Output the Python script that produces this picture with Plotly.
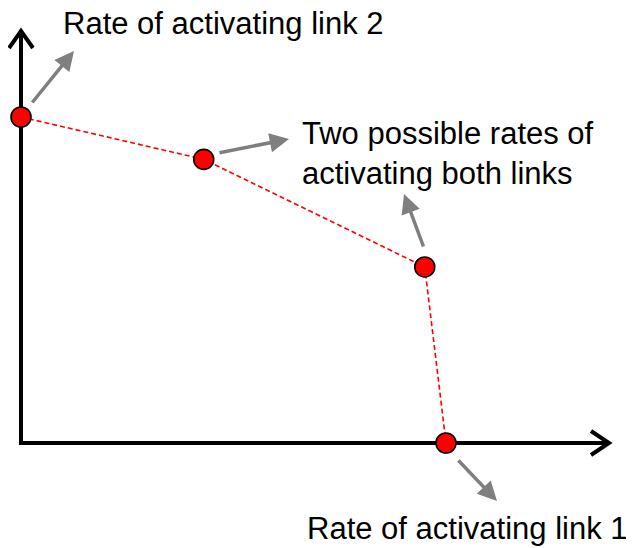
import plotly.graph_objects as go

# Data: achievable rate region corner points (normalized rates)
rate_link1 = [0.0, 0.43, 0.95, 1.0]
rate_link2 = [1.0, 0.87, 0.54, 0.0]

labels = ["Rate of activating link 2",
          "Two possible rates of<br>activating both links",
          "Rate of activating link 1"]

# page pixel <-> data helpers (layout only); page body has an 8px margin
OFF = 8
W, H = 634 - OFF, 548 - OFF
X0, Y0 = 21, 443      # origin pixel (page)
SX, SY = 425, 326     # pixels per unit


def px(x):
    return (x - X0) / SX


def py(y):
    return (Y0 - y) / SY


fig = go.Figure()

fig.add_trace(go.Scatter(
    x=rate_link1, y=rate_link2, mode="lines+markers",
    line=dict(color="#ff0000", width=1.6, dash="5px,3px"),
    marker=dict(size=20, color="#ff0000", line=dict(color="black", width=1.6)),
    hoverinfo="skip", showlegend=False, cliponaxis=False,
))

shapes = []
# axes
shapes.append(dict(type="line", x0=px(19), y0=py(443), x1=px(609), y1=py(443),
                   line=dict(color="black", width=4), layer="below"))
shapes.append(dict(type="line", x0=px(21), y0=py(445), x1=px(21), y1=py(31),
                   line=dict(color="black", width=4), layer="below"))
# chevrons
shapes.append(dict(type="path",
                   path=f"M {px(9)},{py(48)} L {px(21)},{py(31)} L {px(33)},{py(48)}",
                   line=dict(color="black", width=4), layer="below"))
shapes.append(dict(type="path",
                   path=f"M {px(591)},{py(431)} L {px(609)},{py(443)} L {px(591)},{py(455)}",
                   line=dict(color="black", width=4), layer="below"))

annotations = []
# gray pointer arrows (tail -> head)
arrows = [((31, 104), (74, 51)), ((218, 153), (289, 139)),
          ((424, 248), (404, 194)), ((457, 459), (497, 501))]
for (tx, ty), (hx, hy) in arrows:
    annotations.append(dict(x=px(hx), y=py(hy), ax=px(tx), ay=py(ty),
                            xref="x", yref="y", axref="x", ayref="y",
                            text="", showarrow=True, arrowhead=2, arrowsize=1.1,
                            arrowwidth=3.5, arrowcolor="#7f7f7f", standoff=0,
                            startstandoff=0))

font = dict(family="Liberation Sans, Arial", size=31, color="black")
annotations.append(dict(x=px(61), y=py(23), xref="x", yref="y", text=labels[0],
                        showarrow=False, xanchor="left", yanchor="middle",
                        font=font))
annotations.append(dict(x=px(300), y=py(153), xref="x", yref="y", text=labels[1],
                        showarrow=False, xanchor="left", yanchor="middle",
                        align="left", font=font))
annotations.append(dict(x=px(305), y=py(528), xref="x", yref="y", text=labels[2],
                        showarrow=False, xanchor="left", yanchor="middle",
                        font=font))

fig.update_layout(
    width=W, height=H, margin=dict(l=0, r=0, t=0, b=0),
    paper_bgcolor="white", plot_bgcolor="white",
    xaxis=dict(range=[px(OFF), px(OFF + W)], visible=False, fixedrange=True),
    yaxis=dict(range=[py(OFF + H), py(OFF)], visible=False, fixedrange=True),
    shapes=shapes, annotations=annotations, showlegend=False,
)

fig.write_html("out.html")
